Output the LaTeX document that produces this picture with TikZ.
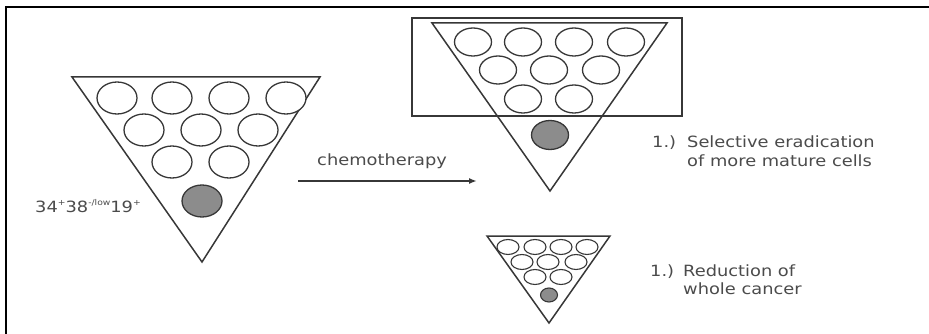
\documentclass[tikz,border=0pt]{standalone}
\usepackage{fontspec}
\setmainfont{DejaVu Sans}[FakeStretch=1.15]
\usetikzlibrary{arrows.meta,positioning}
\definecolor{ink}{RGB}{55,55,55}
\definecolor{txt}{RGB}{75,75,75}
\definecolor{cellgray}{RGB}{140,140,140}
\newcommand{\supmark}[1]{\raisebox{0.42em}{\fontsize{8}{8}\selectfont #1}}
\begin{document}
\begin{tikzpicture}[x=1pt,y=-1pt,>=Latex,
 tri/.style={draw=ink,line width=1.5pt,line join=miter},
 cell/.style={draw=ink,line width=1.3pt,fill=white},
 stemcell/.style={cell,fill=cellgray},
 lbl/.style={text=txt,font=\fontsize{15.5}{18.5}\selectfont,inner sep=0pt},
 arr/.style={-{Latex[length=8pt,width=6pt]},line width=1.8pt,draw=ink}]
\useasboundingbox (0,0) rectangle (929,334);
\draw[line width=2pt] (6,334) -- (6,7) -- (929,7);
\draw[tri] (72,77) -- (320,77) -- (202,262) -- cycle;
\foreach \cx/\cy in {117/98,172/98,229/98,286/98,144/130,201/130,258/130,172/162,229/162}
  \draw[cell] (\cx,\cy) ellipse [x radius=20pt,y radius=16pt];
\draw[stemcell] (202,201) ellipse [x radius=20pt,y radius=16pt];
\node[lbl,anchor=base west] (marker) at (35,212) {34\supmark{+}38\supmark{-/low}19\supmark{+}};
\coordinate (chemostart) at (298,181);
\coordinate (chemoend) at (477,181);
\draw[arr] (chemostart) -- (chemoend);
\node[lbl,anchor=base west] (chemo) at (317,165) {chemotherapy};
\draw[ink,line width=1.6pt] (412,18) rectangle (682,116);
\draw[tri] (432,23) -- (667,23) -- (550,191) -- cycle;
\foreach \cx/\cy in {473/42,523/42,574/42,626/42,498/70,549/70,601/70,523/99,574/99}
  \draw[cell] (\cx,\cy) ellipse [x radius=18.5pt,y radius=14pt];
\draw[stemcell] (550,135) ellipse [x radius=18.5pt,y radius=14.5pt];
\node[lbl,anchor=base west] (eradication) at (652,148)
  {\begin{tabular}[t]{@{}l@{}l@{}}\makebox[35pt][l]{1.)} & Selective eradication\\ & of more mature cells\end{tabular}};
\draw[tri] (487,236) -- (610,236) -- (549,323) -- cycle;
\foreach \cx/\cy in {508/247,535/247,561/247,587/247,522/262,548/262,576/262,535/277,561/277}
  \draw[cell,line width=1.1pt] (\cx,\cy) ellipse [x radius=11pt,y radius=7.5pt];
\draw[stemcell,line width=1.1pt] (549,295) ellipse [x radius=8.5pt,y radius=7pt];
\node[lbl,anchor=base west] (reduction) at (650,276)
  {\begin{tabular}[t]{@{}l@{}l@{}}\makebox[33pt][l]{1.)} & Reduction of\\ & whole cancer\end{tabular}};
\end{tikzpicture}
\end{document}
